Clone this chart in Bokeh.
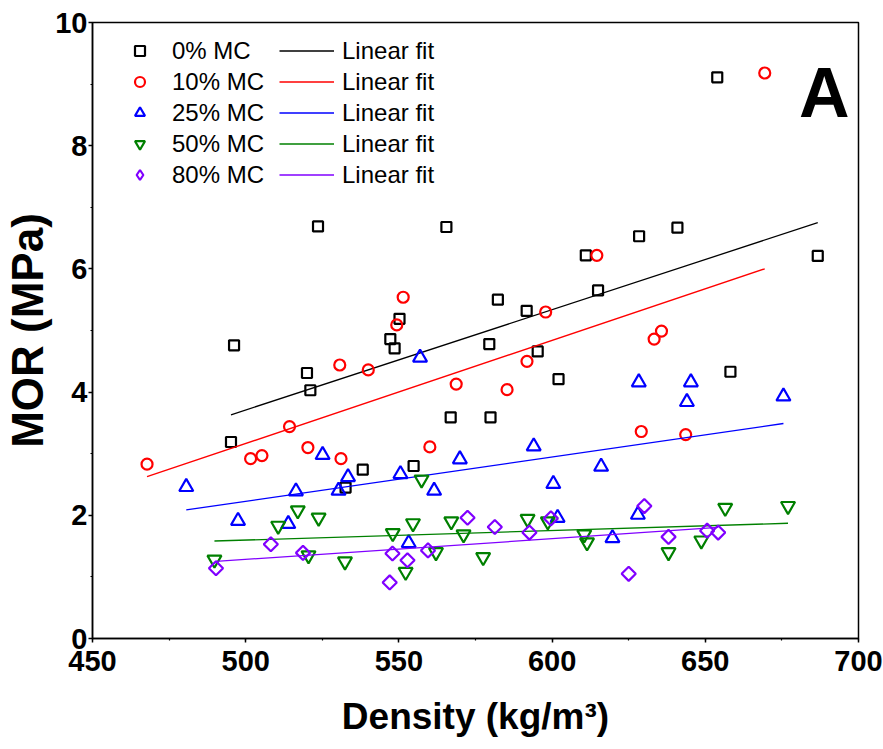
import numpy as np
from bokeh.plotting import figure
from bokeh.models import Legend, LegendItem, Label, SingleIntervalTicker, Range1d
from bokeh.embed import file_html
from bokeh.resources import INLINE

# ---- data (density kg/m3, MOR MPa) ----
density_0 = [495.2, 496.2, 520.0, 521.1, 523.6, 532.6, 538.2, 547.2, 548.6, 550.2,
             554.8, 565.5, 566.9, 579.5, 579.9, 582.3, 591.7, 595.3, 602.1, 611.0,
             615.0, 628.4, 640.9, 653.9, 658.2, 686.7]
mor_0 = [3.19, 4.76, 4.31, 4.03, 6.69, 2.45, 2.74, 4.86, 4.71, 5.19,
         2.80, 6.68, 3.59, 4.78, 3.59, 5.50, 5.32, 4.66, 4.21, 6.22,
         5.65, 6.53, 6.67, 9.11, 4.33, 6.21]

density_10 = [467.8, 501.6, 505.3, 514.3, 520.3, 530.7, 531.1, 540.0, 549.3, 551.4,
              560.1, 568.7, 585.3, 591.8, 597.9, 614.6, 629.1, 633.3, 635.7, 643.6, 669.4]
mor_10 = [2.83, 2.92, 2.97, 3.44, 3.10, 4.44, 2.92, 4.36, 5.09, 5.54,
          3.11, 4.13, 4.04, 4.50, 5.30, 6.22, 3.36, 4.86, 4.99, 3.31, 9.18]

density_25 = [480.6, 497.5, 513.9, 516.4, 525.1, 530.3, 533.4, 550.5, 553.2, 556.9,
              561.5, 569.9, 594.0, 600.4, 601.8, 616.0, 619.7, 628.0, 628.3, 644.0,
              645.3, 675.5]
mor_25 = [2.46, 1.91, 1.86, 2.39, 2.98, 2.40, 2.62, 2.67, 1.55, 4.56,
          2.40, 2.91, 3.12, 2.51, 1.96, 2.79, 1.63, 2.01, 4.16, 3.84,
          4.16, 3.93]

density_50 = [489.8, 510.6, 517.0, 520.5, 523.8, 532.4, 548.0, 552.2, 554.6, 557.4,
              562.1, 567.1, 571.1, 577.5, 592.0, 598.6, 610.5, 611.4, 638.0, 648.7,
              656.5, 677.0]
mor_50 = [1.28, 1.83, 2.08, 1.35, 1.96, 1.25, 1.71, 1.08, 1.87, 2.58,
          1.40, 1.90, 1.69, 1.32, 1.94, 1.90, 1.69, 1.56, 1.40, 1.59,
          2.12, 2.15]

density_80 = [490.3, 508.2, 518.7, 547.0, 547.9, 552.8, 559.5, 572.4, 581.3, 592.6,
              599.6, 625.0, 630.1, 638.0, 650.6, 654.2]
mor_80 = [1.14, 1.53, 1.39, 0.91, 1.38, 1.27, 1.43, 1.96, 1.81, 1.72,
          1.95, 1.05, 2.15, 1.65, 1.75, 1.72]

series_labels = ["0% MC", "10% MC", "25% MC", "50% MC", "80% MC"]
fit_label = "Linear fit"
x_ticks = [450, 500, 550, 600, 650, 700]
y_ticks = [0, 2, 4, 6, 8, 10]

# (x, y, plot marker, size, rotation, legend marker, colour)
series = [
    (density_0, mor_0, "square", 10, 0.0, "square", "#000000"),
    (density_10, mor_10, "circle", 11, 0.0, "circle", "#FF0000"),
    (density_25, mor_25, "triangle", 14, 0.0, "triangle", "#0000FF"),
    (density_50, mor_50, "inverted_triangle", 14, 0.0, "inverted_triangle", "#008000"),
    (density_80, mor_80, "square", 10, np.pi / 4, "diamond", "#8000FF"),
]

FONT = "Liberation Sans"

p = figure(width=883, height=749, output_backend="svg", toolbar_location=None,
           x_range=Range1d(x_ticks[0], x_ticks[-1]), y_range=Range1d(y_ticks[0], y_ticks[-1]),
           min_border_left=90, min_border_right=25, min_border_top=22, min_border_bottom=111)
p.grid.visible = False
p.outline_line_color = "black"
p.outline_line_width = 1.5

marker_items, line_items = [], []
for (xs, ys, marker, size, ang, leg_marker, color), lab in zip(series, series_labels):
    sr = p.scatter(xs, ys, marker=marker, size=size, angle=ang, line_color=color,
                   fill_color=None, line_width=2.2)
    leg_r = sr
    if ang != 0.0:
        # legend-only renderer (no visible points) so the key shows a diamond
        leg_r = p.scatter([np.nan], [np.nan], marker=leg_marker, size=size,
                          line_color=color, fill_color=None, line_width=2.2)
    k, b = np.polyfit(xs, ys, 1)
    fx = [min(xs), max(xs)]
    fy = [k * v + b for v in fx]
    lr = p.line(fx, fy, line_color=color, line_width=1.3)
    marker_items.append(LegendItem(label=lab, renderers=[leg_r]))
    line_items.append(LegendItem(label=fit_label, renderers=[lr]))

def style_legend(leg, gw, standoff):
    leg.border_line_color = None
    leg.background_fill_alpha = 0
    leg.padding = 0
    leg.margin = 0
    leg.spacing = 0
    leg.glyph_height = 31
    leg.label_height = 31
    leg.glyph_width = gw
    leg.label_standoff = standoff
    leg.label_text_font = FONT
    leg.label_text_font_size = "24px"
    leg.label_text_color = "black"

leg1 = Legend(items=marker_items, location=(35, 448))
style_legend(leg1, 25, 20)
leg2 = Legend(items=line_items, location=(187, 448))
style_legend(leg2, 55, 8)
p.add_layout(leg1)
p.add_layout(leg2)

p.add_layout(Label(x=688.8, y=8.85, text="A", text_align="center", text_baseline="alphabetic",
                   text_font=FONT, text_font_style="bold", text_font_size="70px",
                   text_color="black"))

p.xaxis.ticker = SingleIntervalTicker(interval=50, num_minor_ticks=2)
p.yaxis.ticker = SingleIntervalTicker(interval=2, num_minor_ticks=2)
p.xaxis.axis_label = "Density (kg/m³)"
p.yaxis.axis_label = "MOR (MPa)"
for ax in (p.xaxis[0], p.yaxis[0]):
    ax.axis_line_color = "black"
    ax.axis_line_width = 1.5
    ax.major_tick_line_color = "black"
    ax.minor_tick_line_color = "black"
    ax.major_tick_line_width = 1.5
    ax.minor_tick_line_width = 1.2
    ax.major_tick_in = 0
    ax.major_tick_out = 4
    ax.minor_tick_in = 0
    ax.minor_tick_out = 2
    ax.major_label_text_font = FONT
    ax.major_label_text_font_style = "bold"
    ax.major_label_text_font_size = "29px"
    ax.major_label_text_color = "black"
    ax.axis_label_text_font = FONT
    ax.axis_label_text_font_style = "bold"
    ax.axis_label_text_color = "black"
p.xaxis.axis_label_text_font_size = "37px"
p.yaxis.axis_label_text_font_size = "44px"
p.xaxis.major_label_standoff = 8
p.yaxis.major_label_standoff = 1
p.xaxis.axis_label_standoff = 22
p.yaxis.axis_label_standoff = 0

open("out.html", "w").write(file_html(p, INLINE))
